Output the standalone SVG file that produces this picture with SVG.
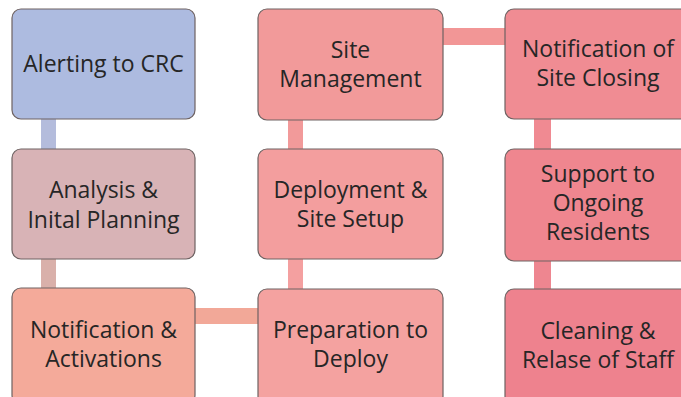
<svg xmlns="http://www.w3.org/2000/svg" width="681" height="397" viewBox="0 0 681 397">
<style>
.box{stroke:#6e6262;stroke-width:1.2}
.t{font-family:"Open Sans","Liberation Sans",sans-serif;font-size:23px;fill:#262626;text-anchor:middle}
</style>
<rect width="681" height="397" fill="#ffffff"/>
<g id="connectors">
<rect x="41" y="118" width="15" height="32" fill="#b4bcdc"/>
<rect x="41" y="258" width="15" height="31" fill="#d9b0aa"/>
<rect x="194" y="308" width="65" height="16" fill="#f2a898"/>
<rect x="288" y="258" width="15" height="32" fill="#f4a0a0"/>
<rect x="288" y="119" width="15" height="31" fill="#f29a9a"/>
<rect x="442" y="28" width="64" height="17" fill="#f29696"/>
<rect x="534" y="118" width="17" height="32" fill="#f08a92"/>
<rect x="534" y="260" width="17" height="30" fill="#ee8690"/>
</g>
<g id="n1"><rect class="box" x="12" y="9" width="183" height="110" rx="9" fill="#adbbe0"/>
<text class="t" x="103.5" y="72">Alerting to CRC</text></g>
<g id="n2"><rect class="box" x="258" y="9" width="185" height="111" rx="9" fill="#f29a9a"/>
<text class="t" x="350.5" y="58">Site</text><text class="t" x="350.5" y="87">Management</text></g>
<g id="n3"><rect class="box" x="505" y="9" width="186" height="110" rx="9" fill="#f08c93"/>
<text class="t" x="598" y="57">Notification of</text><text class="t" x="598" y="86">Site Closing</text></g>
<g id="n4"><rect class="box" x="12" y="149" width="183" height="110" rx="9" fill="#d8b3b6"/>
<text class="t" x="103.5" y="198">Analysis &amp;</text><text class="t" x="103.5" y="228">Inital Planning</text></g>
<g id="n5"><rect class="box" x="258" y="149" width="185" height="110" rx="9" fill="#f39e9e"/>
<text class="t" x="350.5" y="198">Deployment &amp;</text><text class="t" x="350.5" y="227">Site Setup</text></g>
<g id="n6"><rect class="box" x="505" y="149" width="186" height="112" rx="9" fill="#ef868f"/>
<text class="t" x="598" y="182">Support to</text><text class="t" x="598" y="211">Ongoing</text><text class="t" x="598" y="240">Residents</text></g>
<g id="n7"><rect class="box" x="12" y="288" width="183" height="116" rx="9" fill="#f4aa9a"/>
<text class="t" x="103.5" y="338">Notification &amp;</text><text class="t" x="103.5" y="367">Activations</text></g>
<g id="n8"><rect class="box" x="258" y="289" width="185" height="116" rx="9" fill="#f4a2a0"/>
<text class="t" x="350.5" y="338">Preparation to</text><text class="t" x="350.5" y="367">Deploy</text></g>
<g id="n9"><rect class="box" x="505" y="289" width="186" height="116" rx="9" fill="#ee828e"/>
<text class="t" x="598" y="339">Cleaning &amp;</text><text class="t" x="598" y="368">Relase of Staff</text></g>
</svg>
